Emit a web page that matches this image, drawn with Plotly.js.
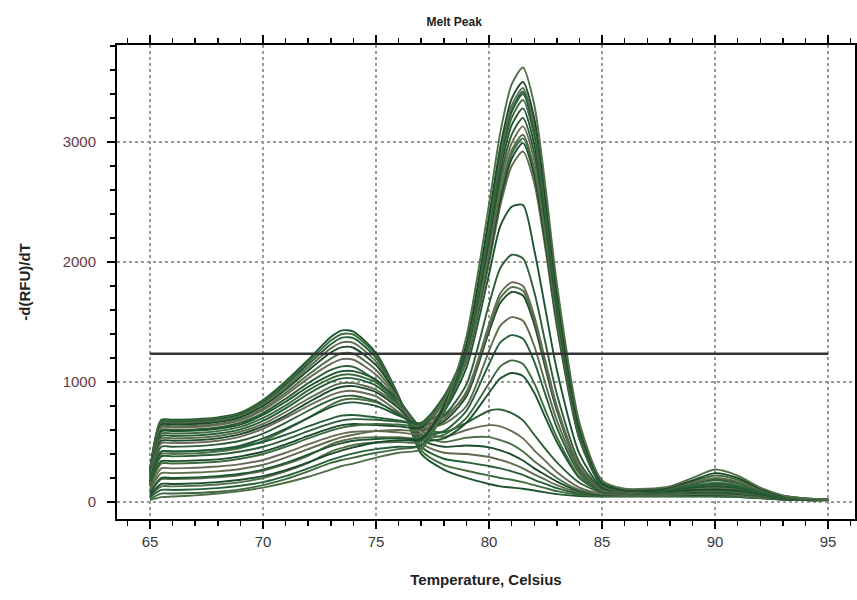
<!DOCTYPE html>
<html><head><meta charset="utf-8">
<script src="https://cdn.plot.ly/plotly-3.0.1.min.js"></script>
<style>html,body{margin:0;padding:0;background:#fff}#chart{width:857px;height:600px}</style>
</head><body><div id="chart"></div>
<script>
const temps = [65,65.5,66,67,68,69,70,71,72,73,73.5,74,75,76,77,78,79,80,80.5,81,81.5,82,82.5,83,84,85,86,87,88,89,90,91,92,93,94,95];

// high product peak (~81.5 C)
const h1  = [15,40,45,55,70,90,120,160,210,270,300,320,370,410,440,760,1380,2480,3080,3480,3620,3310,2620,1820,660,180,110,110,130,200,270,220,120,55,30,20];
const h2  = [60,150,150,155,165,185,215,265,330,400,430,455,495,515,520,800,1320,2380,2960,3360,3500,3200,2520,1740,610,160,100,100,120,180,240,200,110,50,30,20];
const h3  = [100,240,240,245,255,275,310,370,440,510,540,560,590,600,600,840,1300,2330,2900,3300,3450,3140,2480,1720,600,160,100,100,115,160,200,170,100,45,25,20];
const h4  = [40,100,100,105,115,135,165,215,280,350,380,405,440,460,470,740,1260,2280,2860,3250,3400,3090,2440,1690,590,150,95,95,105,130,150,130,80,40,25,15];
const h5  = [130,320,320,325,335,360,400,460,530,595,620,635,650,645,640,860,1280,2250,2820,3200,3350,3050,2400,1660,580,150,100,100,115,170,220,185,105,50,30,20];
const h6  = [80,200,200,205,215,235,270,325,395,465,490,510,525,530,530,780,1250,2200,2760,3140,3280,2980,2350,1620,570,145,95,90,100,120,130,115,75,40,25,15];
const h7  = [150,380,380,385,395,420,460,520,590,655,680,690,685,670,660,870,1260,2170,2700,3060,3200,2910,2300,1590,560,145,95,95,110,150,180,155,95,45,25,20];
const h8  = [110,280,280,285,295,315,350,410,480,545,570,585,590,580,570,800,1220,2120,2640,2990,3130,2850,2250,1560,550,140,90,90,100,115,120,110,75,40,25,15];
const h9  = [50,130,130,135,145,165,200,255,325,420,450,475,495,500,500,760,1190,2070,2580,2930,3060,2780,2200,1520,540,140,90,90,105,135,160,140,85,40,25,15];
const h10 = [140,340,340,345,355,380,420,480,550,615,640,650,640,630,620,830,1200,2030,2520,2860,2990,2720,2150,1490,530,135,90,90,95,105,110,100,70,35,20,15];
const h11 = [75,190,190,195,205,225,260,315,385,480,510,530,540,540,540,780,1170,1990,2470,2800,2920,2660,2100,1460,520,135,90,90,100,125,140,125,80,40,25,15];
const h12 = [170,420,420,425,435,460,500,560,630,695,720,725,705,680,660,880,1290,2250,2840,3260,3420,3110,2450,1700,590,150,100,100,110,150,190,160,95,45,25,20];
const h13 = [25,70,70,75,85,105,140,190,255,325,350,370,410,440,470,750,1180,2050,2550,2900,3030,2760,2180,1500,535,140,90,90,100,120,140,125,80,40,25,15];

// medium peaks (~81 C)
const m1 = [170,420,420,425,440,470,530,610,700,790,820,830,800,720,650,760,1120,1900,2300,2460,2475,2100,1600,1100,400,120,90,85,90,100,105,95,65,35,20,15];
const m2 = [180,460,460,465,480,510,570,660,760,850,880,885,840,730,630,720,980,1650,1950,2060,2030,1750,1320,900,330,110,85,80,85,95,100,90,60,30,20,15];
const m3 = [200,490,490,495,510,545,610,700,800,890,920,925,880,750,610,690,920,1480,1740,1830,1800,1550,1170,800,300,100,80,80,85,90,95,85,60,30,20,15];
const m4 = [160,400,400,405,420,450,510,600,700,810,850,860,830,740,640,710,900,1450,1700,1790,1760,1520,1140,780,290,100,80,80,85,90,95,85,60,30,20,15];
const m5 = [200,510,510,515,530,565,630,720,830,930,960,965,915,780,600,670,880,1420,1660,1750,1720,1480,1110,760,280,100,80,80,80,85,90,80,55,30,20,15];
const m6 = [210,530,530,535,550,585,650,750,860,960,990,990,935,800,620,650,800,1260,1470,1540,1510,1300,980,680,260,95,80,75,80,85,90,80,55,30,20,15];
const m7 = [220,550,550,555,570,605,675,780,900,1000,1030,1030,970,800,560,590,760,1150,1330,1390,1360,1170,890,620,240,90,75,75,80,85,85,75,55,30,20,15];
const m8 = [230,570,570,575,590,625,700,805,930,1030,1060,1060,995,810,540,560,700,990,1130,1180,1150,990,760,540,210,90,75,75,75,80,85,75,50,30,20,15];
const m9 = [235,590,590,595,610,645,725,835,960,1060,1090,1090,1020,820,520,530,660,910,1030,1075,1050,910,700,500,200,85,75,70,75,80,80,70,50,25,20,15];

// strong low-temperature peak (~73.5 C)
const l1 = [240,600,600,605,620,660,740,860,990,1100,1130,1125,1010,850,620,580,660,760,770,740,680,560,440,330,160,80,70,70,70,75,75,65,45,25,20,15];
const l2 = [250,620,620,625,640,680,765,890,1030,1150,1190,1185,1060,850,590,540,600,640,630,590,530,430,340,250,120,70,65,65,65,70,70,60,40,25,20,15];
const l3 = [250,630,630,635,650,690,780,910,1060,1195,1240,1235,1100,860,560,500,535,540,515,480,420,340,270,200,100,65,60,60,60,65,65,55,40,25,15,15];
const l4 = [260,645,645,650,665,705,800,935,1095,1245,1290,1285,1140,870,520,460,470,455,430,395,345,280,225,170,90,60,60,60,60,60,60,55,40,25,15,15];
const l5 = [260,655,655,660,675,715,815,955,1120,1280,1330,1325,1170,870,490,410,400,375,350,320,280,230,185,140,80,60,55,55,55,60,60,50,35,25,15,15];
const l6 = [265,665,665,670,685,725,830,975,1145,1315,1370,1365,1200,870,460,360,330,300,280,255,225,185,150,115,70,55,55,55,55,55,55,50,35,20,15,15];
const l7 = [270,675,675,680,695,735,840,990,1165,1345,1400,1395,1225,880,430,310,260,220,200,185,165,140,115,90,60,50,50,50,50,50,50,45,35,20,15,15];
const l8 = [275,685,685,690,705,745,850,1005,1185,1375,1430,1420,1240,880,400,270,200,150,130,120,110,95,80,65,50,45,45,45,45,45,45,40,30,20,15,15];

const thresholdX = [65, 95];
const thresholdY = [1235, 1235];

const curves = [l8,l7,l6,l5,l4,l3,l2,l1,m9,m8,m7,m6,m5,m4,m3,m2,m1,h13,h12,h11,h10,h9,h8,h7,h6,h5,h4,h3,h2,h1];
const palette = ['#1d5530','#3f6a3c','#24603a','#5e6c4c','#1b4a2c','#4f7046','#6a6a58','#2e5e35'];

const traces = curves.map((c, i) => ({
  x: temps, y: c, type: 'scatter', mode: 'lines',
  line: {color: palette[i % palette.length], width: 1.9, shape: 'spline', smoothing: 0.7},
  hoverinfo: 'skip', showlegend: false
}));
traces.push({
  x: thresholdX, y: thresholdY, type: 'scatter', mode: 'lines',
  line: {color: '#333333', width: 2.5}, showlegend: false, hoverinfo: 'skip'
});

const layout = {
  width: 857, height: 600,
  margin: {l: 117, r: 2, t: 45, b: 81},
  paper_bgcolor: '#ffffff', plot_bgcolor: '#ffffff',
  font: {family: 'Liberation Sans, Arial, sans-serif'},
  title: {text: '<b>Melt Peak</b>', font: {size: 12, color: '#222'}, x: 0.53, xanchor: 'center', y: 0.963, yanchor: 'middle'},
  xaxis: {
    range: [63.54, 96.19], tickvals: [65,70,75,80,85,90,95],
    showline: true, linecolor: '#000', linewidth: 2, mirror: 'ticks',
    ticks: 'outside', ticklen: 8, tickwidth: 2, tickcolor: '#000',
    minor: {dtick: 1, tick0: 65, ticks: 'outside', ticklen: 5, tickwidth: 1.5, tickcolor: '#000', showgrid: false},
    showgrid: true, gridcolor: '#999', griddash: 'dot', gridwidth: 1.2,
    zeroline: false, tickfont: {size: 15, color: '#3a3a3a'},
    title: {text: '<b>Temperature, Celsius</b>', font: {size: 15, color: '#222'}, standoff: 25}
  },
  yaxis: {
    range: [-142, 3808], tickvals: [0,1000,2000,3000],
    showline: true, linecolor: '#000', linewidth: 2, mirror: 'ticks',
    ticks: 'outside', ticklen: 8, tickwidth: 2, tickcolor: '#000',
    minor: {dtick: 200, tick0: 0, ticks: 'outside', ticklen: 5, tickwidth: 1.5, tickcolor: '#000', showgrid: false},
    showgrid: true, gridcolor: '#999', griddash: 'dot', gridwidth: 1.2,
    zeroline: false, tickfont: {size: 15, color: '#6a3a46'}, ticklabelstandoff: 8,
    title: {text: '<b>-d(RFU)/dT</b>', font: {size: 15, color: '#222'}, standoff: 28}
  }
};

Plotly.newPlot('chart', traces, layout, {staticPlot: true, displayModeBar: false});
</script></body></html>
